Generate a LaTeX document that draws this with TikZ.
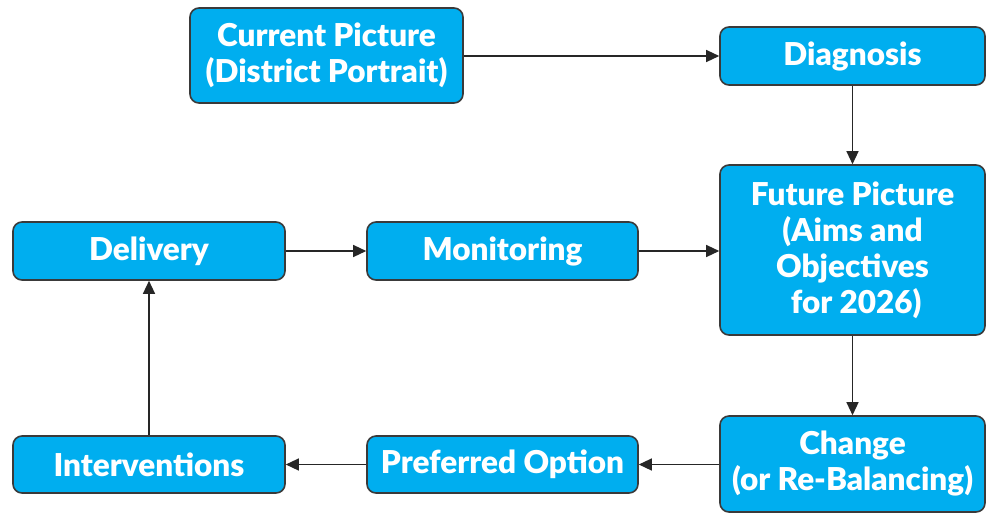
\documentclass[tikz,border=0pt]{standalone}
\usepackage{fontspec}
\setmainfont{Lato}[BoldFont={Lato Black}]
\usetikzlibrary{arrows.meta}
\definecolor{boxfill}{HTML}{00AEEF}
\definecolor{boxline}{HTML}{3A3A3A}
\begin{document}
\begin{tikzpicture}[x=1pt,y=-1pt,
  stepbox/.style={draw=boxline,line width=1.6pt,fill=boxfill,rounded corners=9pt,
    text=white,font=\fontsize{31.5}{36}\selectfont\bfseries,align=center,
    inner sep=0pt,anchor=center},
  flow/.style={draw=black!85,line width=1.3pt,-{Triangle[length=13pt,width=12pt]}}]
\useasboundingbox (0,0) rectangle (987,515);
\node[stepbox,minimum width=273pt,minimum height=95pt] (cur) at (326.5,55.5) {Current Picture\\(District Portrait)};
\node[stepbox,minimum width=265pt,minimum height=58pt] (diag) at (852.5,56) {Diagnosis};
\node[stepbox,minimum width=265pt,minimum height=170pt] (fut) at (852.5,250) {Future Picture\\(Aims and\\Objectives\\\ for 2026)};
\node[stepbox,minimum width=265pt,minimum height=96pt] (chg) at (852.5,464) {Change\\(or Re-Balancing)};
\node[stepbox,minimum width=271pt,minimum height=57pt] (pref) at (502.5,464.5) {Preferred Option};
\node[stepbox,minimum width=272pt,minimum height=57pt] (intv) at (149,464.5) {Interventions};
\node[stepbox,minimum width=272pt,minimum height=58pt] (deliv) at (149,251) {Delivery};
\node[stepbox,minimum width=271pt,minimum height=58pt] (mon) at (502.5,251) {Monitoring};
\draw[flow] (cur.east |- diag.west) -- (diag.west);
\draw[flow] (diag) -- (fut);
\draw[flow] (deliv) -- (mon);
\draw[flow] (mon) -- (mon -| fut.west);
\draw[flow] (fut) -- (chg);
\draw[flow] (chg.west |- pref) -- (pref);
\draw[flow] (pref) -- (intv);
\draw[flow] (intv) -- (deliv);
\end{tikzpicture}
\end{document}
